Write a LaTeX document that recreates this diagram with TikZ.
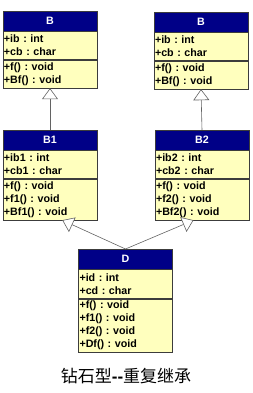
\documentclass[tikz,border=0pt]{standalone}
\usepackage{fontspec}
\setmainfont{Liberation Sans}
\newfontfamily\cjk{Noto Sans CJK SC}
\usetikzlibrary{arrows.meta, positioning, calc}

\definecolor{headblue}{RGB}{0,0,135}
\definecolor{bodyyellow}{RGB}{255,255,190}
\definecolor{edgegray}{RGB}{60,60,60}

\begin{document}
\frenchspacing
\begin{tikzpicture}[
    x=1pt, y=-1pt,
    classhead/.style={draw=edgegray, fill=headblue, text=white,
                      minimum width=94pt, minimum height=20pt,
                      font=\fontsize{10.7}{13}\selectfont\bfseries,
                      anchor=north, inner sep=1pt},
    classpart/.style={draw=edgegray, fill=bodyyellow, text width=92pt,
                      align=left, inner xsep=1pt, inner ysep=1pt,
                      font=\fontsize{10.7}{13}\selectfont\bfseries,
                      below=0pt of #1},
    inherit/.style={draw=edgegray!80, line width=0.6pt,
                    -{Triangle[open, length=11pt, width=16pt, fill=white]}}
  ]
  \useasboundingbox (0,0) rectangle (253,393);

  % base class, left copy
  \node[classhead] (bl) at (50,11) {B};
  \node[classpart=bl, minimum height=28pt] (bla) {+ib : int\\+cb : char};
  \node[classpart=bla, minimum height=28pt] (blm) {+f() : void\\+Bf() : void};

  % base class, right copy
  \node[classhead] (br) at (201,12) {B};
  \node[classpart=br, minimum height=28pt] (bra) {+ib : int\\+cb : char};
  \node[classpart=bra, minimum height=28pt] (brm) {+f() : void\\+Bf() : void};

  % middle classes
  \node[classhead] (bone) at (50,130) {B1};
  \node[classpart=bone, minimum height=28pt] (bonea) {+ib1 : int\\+cb1 : char};
  \node[classpart=bonea, minimum height=41pt] (bonem)
    {+f() : void\\+f1() : void\\+Bf1() : void};

  \node[classhead] (btwo) at (202,130) {B2};
  \node[classpart=btwo, minimum height=28pt] (btwoa) {+ib2 : int\\+cb2 : char};
  \node[classpart=btwoa, minimum height=41pt] (btwom)
    {+f() : void\\+f2() : void\\+Bf2() : void};

  % derived class
  \node[classhead] (d) at (125.5,249) {D};
  \node[classpart=d, minimum height=29pt] (da) {+id : int\\+cd : char};
  \node[classpart=da, minimum height=53pt] (dm)
    {+f() : void\\+f1() : void\\+f2() : void\\+Df() : void};

  \coordinate (bonetip) at ($(bonem.south west)!0.63!(bonem.south east)$);
  \coordinate (btwotip) at ($(btwom.south west)!0.41!(btwom.south east)$);

  \draw[inherit] (bone.north) -- (blm.south);
  \draw[inherit] (btwo.north) -- (brm.south);
  \draw[inherit] (d.north) -- (bonetip);
  \draw[inherit] (d.north) -- (btwotip);

  \node[font=\fontsize{17}{20}\selectfont] (caption) at (126,376)
    {{\cjk 钻石型}\textbf{-{}-}{\cjk 重复继承}};
\end{tikzpicture}
\end{document}
